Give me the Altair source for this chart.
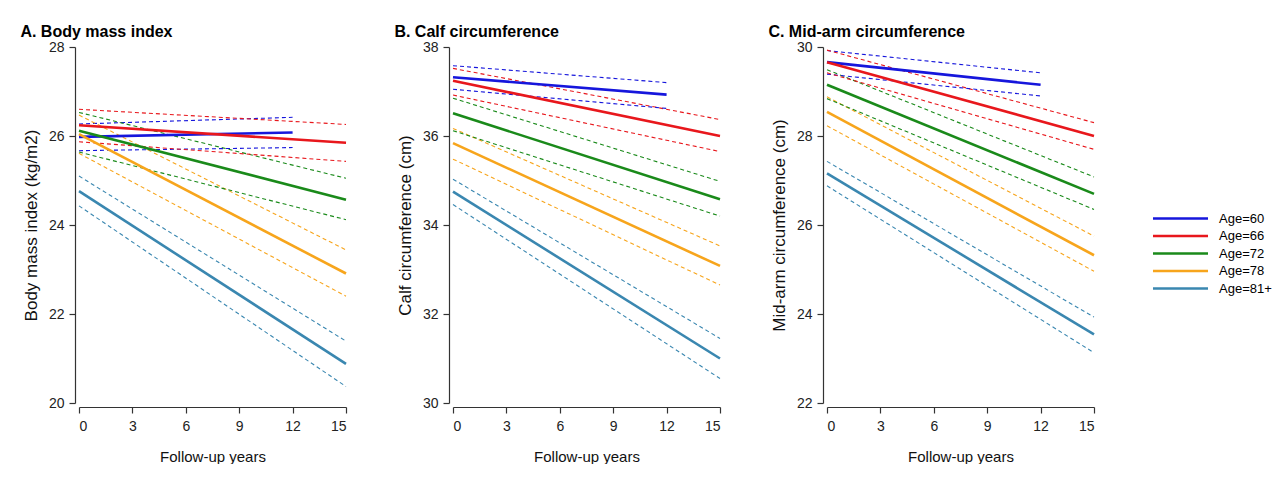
import altair as alt
import pandas as pd

groups = ["Age=60", "Age=66", "Age=72", "Age=78", "Age=81+"]
colors = ["#1616DC", "#E8171C", "#1A8A1A", "#F7A51C", "#3A87B0"]
end_years = [12, 15, 15, 15, 15]

panel_titles = ["A. Body mass index", "B. Calf circumference", "C. Mid-arm circumference"]
y_titles = ["Body mass index (kg/m2)", "Calf circumference (cm)", "Mid-arm circumference (cm)"]
y_domains = [[20, 28], [30, 38], [22, 30]]
y_ticks = [[20, 22, 24, 26, 28], [30, 32, 34, 36, 38], [22, 24, 26, 28, 30]]
x_ticks = [0, 3, 6, 9, 12, 15]

# A. Body mass index (start at year 0, end at last year)
bmi_est_start = [25.98, 26.24, 26.12, 26.04, 24.76]
bmi_est_end = [26.08, 25.85, 24.57, 22.91, 20.88]
bmi_hi_start = [26.27, 26.60, 26.53, 26.47, 25.10]
bmi_hi_end = [26.42, 26.26, 25.05, 23.44, 21.39]
bmi_lo_start = [25.67, 25.87, 25.64, 25.61, 24.43]
bmi_lo_end = [25.74, 25.43, 24.12, 22.40, 20.37]

# B. Calf circumference
calf_est_start = [37.32, 37.24, 36.51, 35.84, 34.75]
calf_est_end = [36.93, 36.00, 34.58, 33.08, 31.00]
calf_hi_start = [37.58, 37.52, 36.85, 36.17, 35.03]
calf_hi_end = [37.20, 36.37, 34.98, 33.53, 31.45]
calf_lo_start = [37.05, 36.92, 36.12, 35.48, 34.46]
calf_lo_end = [36.62, 35.65, 34.20, 32.65, 30.55]

# C. Mid-arm circumference
arm_est_start = [29.66, 29.66, 29.15, 28.54, 27.16]
arm_est_end = [29.15, 28.00, 26.70, 25.32, 23.54]
arm_hi_start = [29.92, 29.93, 29.49, 28.88, 27.43]
arm_hi_end = [29.42, 28.30, 27.08, 25.75, 23.93]
arm_lo_start = [29.39, 29.42, 28.84, 28.23, 26.88]
arm_lo_end = [28.90, 27.70, 26.35, 24.96, 23.13]

panels = [
    {"est": (bmi_est_start, bmi_est_end), "hi": (bmi_hi_start, bmi_hi_end), "lo": (bmi_lo_start, bmi_lo_end)},
    {"est": (calf_est_start, calf_est_end), "hi": (calf_hi_start, calf_hi_end), "lo": (calf_lo_start, calf_lo_end)},
    {"est": (arm_est_start, arm_est_end), "hi": (arm_hi_start, arm_hi_end), "lo": (arm_lo_start, arm_lo_end)},
]

rows = []
for p, pdata in enumerate(panels):
    for kind, (starts, ends) in pdata.items():
        for g, grp in enumerate(groups):
            for yr, val in ((0, starts[g]), (end_years[g], ends[g])):
                rows.append({"panel": p, "group": grp, "hex": colors[g], "kind": kind,
                             "year": yr, "value": val})
df = pd.DataFrame(rows)

FONT = "Liberation Sans"
color_scale = alt.Scale(domain=groups, range=colors)


def make_panel(i):
    d = df[df.panel == i]
    base = alt.Chart(d).encode(
        x=alt.X(
            "year:Q",
            scale=alt.Scale(domain=[0, 15], nice=False),
            axis=alt.Axis(values=x_ticks, title="Follow-up years", offset=4, tickSize=6,
                          labelPadding=6, titlePadding=16, labelFontSize=14, titleFontSize=15),
        ),
        y=alt.Y(
            "value:Q",
            scale=alt.Scale(domain=y_domains[i], nice=False, zero=False),
            axis=alt.Axis(values=y_ticks[i], title=y_titles[i], offset=4, tickSize=6,
                          labelPadding=5, titlePadding=8, labelFontSize=14, titleFontSize=17),
        ),
        order=alt.Order("year:Q"),
    )
    ci = base.transform_filter(alt.datum.kind != "est").mark_line(
        strokeWidth=1.1, strokeDash=[4, 3]
    ).encode(
        color=alt.Color("hex:N", scale=None),
        detail="kind:N",
    )
    est = base.transform_filter(alt.datum.kind == "est").mark_line(strokeWidth=2.6).encode(
        color=alt.Color(
            "group:N", scale=color_scale,
            legend=alt.Legend(
                title=None, orient="none", legendX=1093, legendY=163, padding=0,
                symbolType="M-3.93,0H3.93", symbolSize=196, symbolStrokeWidth=2.6,
                labelFontSize=13, labelFont=FONT, rowPadding=1.5, labelOffset=30,
            ),
        ),
        detail="group:N",
    )
    return alt.layer(ci, est).properties(
        width=267, height=356,
        title=alt.TitleParams(panel_titles[i], anchor="start", dx=-2, fontSize=16,
                              fontWeight="bold", font=FONT, offset=0),
    )


chart = alt.hconcat(make_panel(0), make_panel(1), make_panel(2), spacing=107).properties(
    bounds="flush",
    padding={"left": 12, "top": 16, "right": 0, "bottom": 0},
).configure_axis(
    grid=False, domainColor="#333333", tickColor="#333333", labelColor="#222222",
    titleColor="#111111", labelFont=FONT, titleFont=FONT, titleFontWeight="normal",
    domainWidth=1.2, tickWidth=1.2,
).configure_view(stroke=None)

chart.save("out.html", embed_options={"renderer": "svg", "actions": False})
